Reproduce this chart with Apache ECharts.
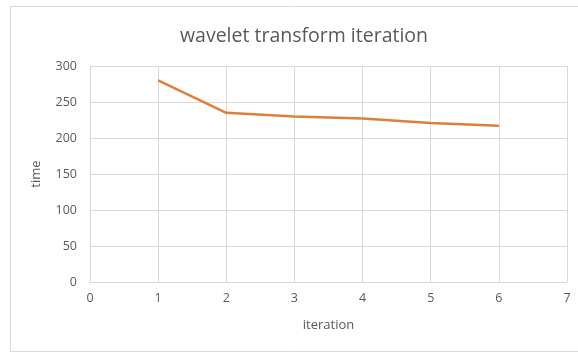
<!DOCTYPE html>
<html>
<head>
<meta charset="utf-8">
<script src="https://cdn.jsdelivr.net/npm/echarts@6/dist/echarts.min.js"></script>
<style>
html,body{margin:0;padding:0;background:#fff;}
#chart{width:578px;height:353px;}
</style>
</head>
<body>
<div id="chart"></div>
<script>
// Timing per wavelet transform iteration
const iterations = [1, 2, 3, 4, 5, 6];
const times = [280, 235, 230, 227, 221, 217];
const xTicks = [0, 1, 2, 3, 4, 5, 6, 7];
const yTicks = [0, 50, 100, 150, 200, 250, 300];

const chart = echarts.init(document.getElementById('chart'), null, { renderer: 'canvas' });
const font = '"Open Sans", "Noto Sans", sans-serif';
const gridGray = '#d9d9d9';
const textGray = '#595959';

chart.setOption({
  animation: false,
  backgroundColor: '#fff',
  graphic: [{
    type: 'rect',
    shape: { x: 10.5, y: 6.5, width: 580, height: 345 },
    style: { fill: 'none', stroke: '#d9d9d9', lineWidth: 1 },
    silent: true
  }],
  title: {
    text: 'wavelet transform iteration',
    left: 299, top: 21, textAlign: 'center',
    textStyle: { fontFamily: font, fontSize: 19.5, fontWeight: 'normal', color: textGray }
  },
  grid: { left: 90, right: 11, top: 66, bottom: 71, containLabel: false },
  xAxis: {
    type: 'value',
    min: xTicks[0], max: xTicks[xTicks.length - 1], interval: 1,
    name: 'iteration', nameLocation: 'middle', nameGap: 37,
    nameTextStyle: { fontFamily: font, fontSize: 13, color: textGray },
    axisLine: { show: true, lineStyle: { color: gridGray } },
    axisTick: { show: false },
    axisLabel: { fontFamily: font, fontSize: 12.5, color: textGray, margin: 10 },
    splitLine: { show: true, lineStyle: { color: gridGray } }
  },
  yAxis: {
    type: 'value',
    min: yTicks[0], max: yTicks[yTicks.length - 1], interval: 50,
    name: 'time', nameLocation: 'middle', nameGap: 47,
    nameTextStyle: { fontFamily: font, fontSize: 13, color: textGray },
    axisLine: { show: false },
    axisTick: { show: false },
    axisLabel: { fontFamily: font, fontSize: 12.5, color: textGray, margin: 13 },
    splitLine: { show: true, lineStyle: { color: gridGray } }
  },
  series: [{
    type: 'line',
    data: iterations.map((x, i) => [x, times[i]]),
    showSymbol: false,
    lineStyle: { color: '#DF7F3C', width: 2.5 },
    itemStyle: { color: '#DF7F3C' }
  }]
});
</script>
</body>
</html>
